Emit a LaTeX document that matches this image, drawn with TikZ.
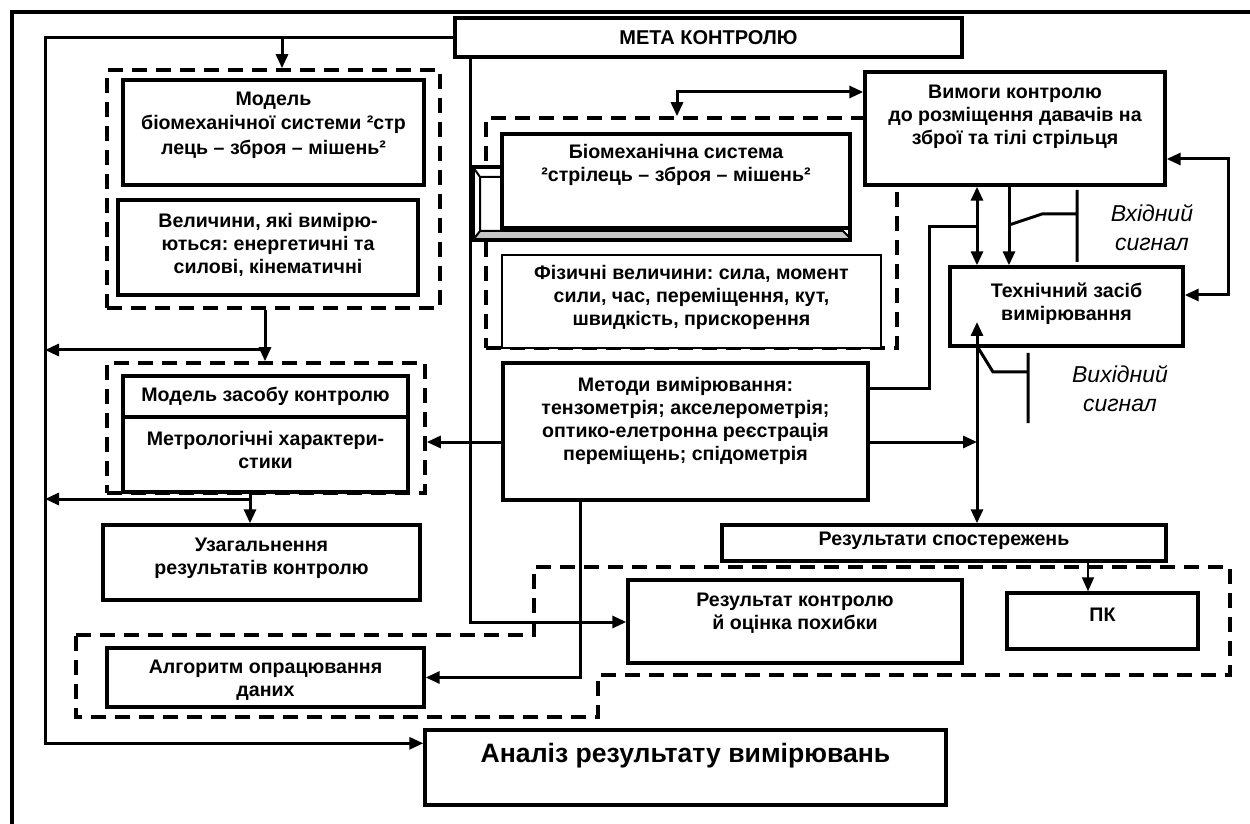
\documentclass[tikz,border=0pt]{standalone}
\usepackage{fontspec}
\setmainfont{Liberation Sans}
\usetikzlibrary{arrows.meta,positioning,fit}

\tikzset{
  box/.style={draw, line width=1.7pt, fill=white, inner sep=0pt},
  thinbox/.style={box, line width=1pt},
  group/.style={draw, line width=1.8pt, dash pattern=on 7.5pt off 4.5pt, inner sep=0pt},
  conn/.style={line width=1.5pt},
  lbl/.style={inner sep=0pt},
  signal/.style={inner sep=0pt, font=\itshape\fontsize{11.5}{14.5}\selectfont},
}

\begin{document}
\frenchspacing
\begin{tikzpicture}[x=0.5pt,y=-0.5pt,>={Triangle[length=7pt,width=6pt]},
  every node/.style={align=center, font=\bfseries\fontsize{9.8}{11.5}\selectfont}]
	\useasboundingbox (0,0) rectangle (1250,824);
	\draw[line width=1.7pt] (12,830) -- (12,12) -- (1252,12);

	% dashed groups
	\node[group, fit={(107,70) (440,308)}] (dashA) {};
	\node[group, fit={(107,363) (425,493)}] (dashB) {};
	\node[group, fit={(486,118) (897,348)}] (dashM) {};
	\draw[group] (76,635) -- (534,635) -- (534,567) -- (1230,567) -- (1230,675)
	  -- (598,675) -- (598,717) -- (76,717) -- cycle;

	% bevel of the system box
	\fill[white] (473,167) -- (502,167) -- (502,228) -- (850,228) -- (850,240) -- (473,240) -- cycle;
	\fill[gray!45] (480,231) -- (843,231) -- (850,238) -- (473,238) -- cycle;
	\draw[line width=1.7pt] (502,167) -- (473,167) -- (473,240) -- (850,240) -- (850,228);
	\draw[line width=1pt] (473,167) -- (480,177) -- (502,177) (480,177) -- (480,231) -- (473,240)
	  (480,231) -- (843,231) -- (850,238);

	% boxes
	\node[box, fit={(455,18) (962,57)}] (meta) {};
	\node[lbl, font=\bfseries\fontsize{10}{12}\selectfont] (meta-t) at (meta) {МЕТА КОНТРОЛЮ};
	\node[box, fit={(123,80) (424,185)}] (mbio) {};
	\node[lbl, yshift=3.75pt, font=\bfseries\fontsize{9.8}{12.3}\selectfont] (mbio-t) at (mbio) {Модель\\біомеханічної системи ²стр\\лець – зброя – мішень²};
	\node[box, fit={(118,200) (418,295)}] (quant) {};
	\node[lbl, yshift=1.25pt] (quant-t) at (quant) {Величини, які вимірю-\\ються: енергетичні та\\силові, кінематичні};
	\node[box, line width=2pt, fit={(502,134) (850,228)}] (bsys) {};
	\node[lbl, yshift=8pt] (bsys-t) at (bsys) {Біомеханічна система\\²стрілець – зброя – мішень²};
	\node[thinbox, fit={(502,255) (881,348)}] (phys) {};
	\node[lbl, yshift=2.25pt] (phys-t) at (phys) {Фізичні величини: сила, момент\\сили, час, переміщення, кут,\\швидкість, прискорення};
	\node[box, fit={(865,72) (1165,185)}] (req) {};
	\node[lbl, yshift=5.75pt] (req-t) at (req) {Вимоги контролю\\до розміщення давачів на\\зброї та тілі стрільця};
	\node[box, fit={(950,267) (1183,346)}] (tech) {};
	\node[lbl, yshift=1.5pt] (tech-t) at (tech) {Технічний засіб\\вимірювання};
	\node[box, fit={(503,363) (868,500)}] (meth) {};
	\node[lbl, yshift=5.25pt] (meth-t) at (meth) {Методи вимірювання:\\тензометрія; акселерометрія;\\оптико-елетронна реєстрація\\переміщень; спідометрія};
	\node[box, fit={(123,376) (408,417)}] (ctrl) {};
	\node[lbl] (ctrl-t) at (ctrl) {Модель засобу контролю};
	\node[box, fit={(123,417) (408,492)}] (metr) {};
	\node[lbl, yshift=2.5pt] (metr-t) at (metr) {Метрологічні характери-\\стики};
	\node[box, fit={(103,525) (420,600)}] (gen) {};
	\node[lbl, yshift=2pt] (gen-t) at (gen) {Узагальнення\\результатів контролю};
	\node[box, fit={(722,525) (1166,561)}] (obs) {};
	\node[lbl, yshift=1pt] (obs-t) at (obs) {Результати спостережень};
	\node[box, fit={(628,580) (962,663)}] (res) {};
	\node[lbl, yshift=4pt] (res-t) at (res) {Результат контролю\\й оцінка похибки};
	\node[box, fit={(1007,593) (1198,649)}] (pc) {};
	\node[lbl, yshift=3pt] (pc-t) at (pc) {ПК};
	\node[box, fit={(107,648) (424,707)}] (alg) {};
	\node[lbl, yshift=-1.25pt] (alg-t) at (alg) {Алгоритм опрацювання\\даних};
	\node[box, fit={(425,730) (946,805)}] (anl) {};
	\node[lbl, yshift=6pt, font=\bfseries\fontsize{13.3}{15}\selectfont] (anl-t) at (anl) {Аналіз результату вимірювань};

	\node[signal] (in-sig) at (1152,228) {Вхідний\\сигнал};
	\node[signal] (out-sig) at (1120,389) {Вихідний\\сигнал};

	% connectors
	\coordinate (busL) at (45,400);
	\coordinate (vTech) at (977,400);
	\draw[conn,->] (meta.west) -| (busL) |- ([yshift=-7.5pt]anl.north west);
	\draw[conn,->] (282,0 |- meta.west) -- (282,0 |- dashA.north);
	\draw[conn,->] (265,0 |- dashA.south) -- (265,0 |- dashB.north);
	\draw[conn,->] (265,350) -- (busL |- 0,350);
	\draw[conn,->] (250,0 |- metr.south) -- (250,0 |- gen.north);
	\draw[conn,->] (250,499) -- (busL |- 0,499);
	\draw[conn,->] (meth.west |- 0,442) -- (dashB.east |- 0,442);
	\draw[conn,->] (470,0 |- meta.south) |- (res.west |- 0,622);
	\draw[conn,->] (580,0 |- meth.south) |- (alg.east);
	\draw[conn,->] (meth.east |- 0,442) -- (vTech |- 0,442);
	\draw[conn] (meth.east |- 0,389) -| (929,227) -- (vTech |- 0,227);
	\draw[conn,<->] (vTech |- req.south) -- (vTech |- tech.north);
	\draw[conn,->] (1009,0 |- req.south) -- (1009,0 |- tech.north);
	\draw[conn] (1009,225) -- (1042,214) -- (1077,214) (1077,190) -- (1077,262);
	\draw[conn,<->] (req.east |- 0,159) -| (1228,295) -- (tech.east |- 0,295);
	\draw[conn,<->] (vTech |- 0,322) -- (vTech |- obs.north);
	\draw[conn] (977,346) -- (993,372) -- (1028,372) (1028,353) -- (1028,423);
	\draw[conn,<->] (req.west |- 0,92) -| (677,0 |- dashM.north);
	\draw[line width=0.9pt,->] (1088,0 |- obs.south) -- (1088,0 |- pc.north);
\end{tikzpicture}
\end{document}
